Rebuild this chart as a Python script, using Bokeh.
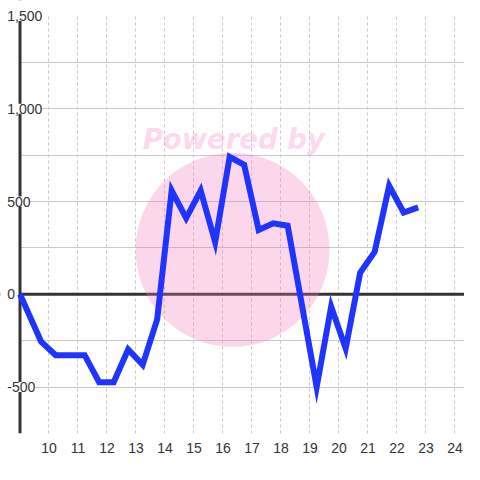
from bokeh.plotting import figure
from bokeh.models import Range1d, FixedTicker, Span, Label, BoxAnnotation
from bokeh.embed import file_html
from bokeh.resources import INLINE

# ---- data ----
x_values = [9.0, 9.73, 10.23, 11.23, 11.73, 12.23, 12.73, 13.23, 13.73, 14.23,
            14.73, 15.23, 15.73, 16.23, 16.73, 17.23, 17.73, 18.23, 19.23, 19.73,
            20.23, 20.73, 21.23, 21.73, 22.23, 22.73]
y_values = [0, -255, -328, -328, -474, -474, -297, -380, -135, 559,
            411, 559, 281, 741, 698, 347, 383, 370, -500, -66,
            -292, 116, 229, 585, 441, 469]
x_ticks = [10, 11, 12, 13, 14, 15, 16, 17, 18, 19, 20, 21, 22, 23, 24]
y_grid = [-750, -500, -250, 0, 250, 500, 750, 1000, 1250, 1500]
y_label_values = [1500, 1000, 500, 0, -500]
y_label_texts = ["1,500", "1,000", "500", "0", "-500"]
x_axis_pos = 9.0
y_top = 1500
watermark_text = "Powered by"
watermark_center = (16.33, 240)
watermark_text_pos = (16.37, 838)

FONT = "Liberation Sans"
TXT = "#333333"

p = figure(width=464, height=464, output_backend="svg", toolbar_location=None,
           x_range=Range1d(8.3276, 24.328), y_range=Range1d(-750, 1583.5),
           y_axis_location=None, min_border_left=0, min_border_right=0,
           min_border_top=0, min_border_bottom=31)
p.outline_line_color = None
p.background_fill_color = "white"
p.border_fill_color = "white"

# grids
p.xgrid.ticker = FixedTicker(ticks=x_ticks)
p.xgrid.grid_line_color = "#c8c8c8"
p.xgrid.grid_line_dash = "3 3"
p.xgrid.grid_line_width = 1
p.ygrid.ticker = FixedTicker(ticks=y_grid)
p.ygrid.grid_line_color = "#c8c8c8"
p.ygrid.grid_line_width = 1

# x axis
ax = p.xaxis[0]
ax.ticker = FixedTicker(ticks=x_ticks)
ax.axis_line_color = None
ax.major_tick_line_color = None
ax.minor_tick_line_color = None
ax.major_label_text_font = FONT
ax.major_label_text_font_size = "14px"
ax.major_label_text_color = TXT
ax.major_label_standoff = 3

# zero line, mask left of axis, axis line, mask above top
p.add_layout(Span(location=0, dimension="width", line_color="#333333",
                  line_width=3, level="underlay"))
p.add_layout(BoxAnnotation(right=x_axis_pos, fill_color="white", fill_alpha=1,
                           line_color=None, level="underlay"))
p.add_layout(Span(location=x_axis_pos, dimension="height", line_color="#333333",
                  line_width=3, level="underlay"))
p.add_layout(BoxAnnotation(bottom=y_top, fill_color="white", fill_alpha=1,
                           line_color=None, level="underlay"))

# watermark
p.scatter(x=[watermark_center[0]], y=[watermark_center[1]], size=194, marker="circle",
          fill_color="#f57ac0", fill_alpha=0.3, line_color=None)
p.add_layout(Label(x=watermark_text_pos[0], y=watermark_text_pos[1], text=watermark_text,
                   text_font="DejaVu Sans", text_font_style="bold italic",
                   text_font_size="27.5px", text_color="#f57ac0", text_alpha=0.3,
                   text_align="center", text_baseline="alphabetic"))

# data line
p.line(x_values, y_values, line_color="#1f35ff", line_width=6, line_join="miter")

# y labels
for v, t in zip(y_label_values, y_label_texts):
    p.add_layout(Label(x=x_axis_pos, y=v, x_offset=-12.7, text=t, text_font=FONT,
                       text_font_size="14px", text_color=TXT, text_align="left",
                       text_baseline="middle", background_fill_color="white"))

open("out.html", "w").write(file_html(p, INLINE))
